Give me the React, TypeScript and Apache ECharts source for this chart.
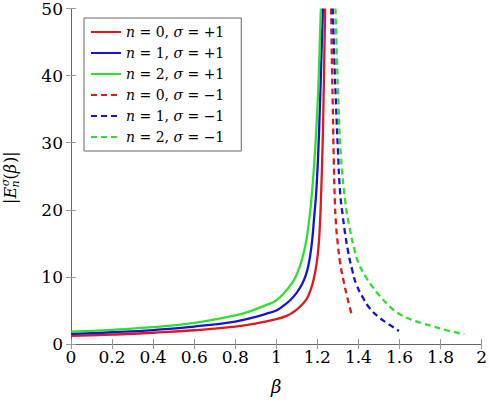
import React, { useEffect, useRef } from "react";
import * as echarts from "echarts";

const FONT = "DejaVu Serif";
const RED = "#e01818";
const BLUE = "#1414d2";
const GREEN = "#2ee02e";

// beta, |E|
const solidN0: number[][] = [
  [0, 1.2], [0.2, 1.4], [0.4, 1.68], [0.6, 2.05], [0.8, 2.6], [0.9, 3.05], [1.0, 3.7],
  [1.05, 4.2], [1.08, 4.7], [1.11, 5.4], [1.143, 6.5], [1.16, 7.5], [1.175, 8.8],
  [1.19, 10.8], [1.203, 13.6], [1.212, 17.5], [1.219, 23], [1.225, 29], [1.23, 36],
  [1.234, 43], [1.238, 50],
];
const solidN1: number[][] = [
  [0, 1.5], [0.2, 1.75], [0.4, 2.08], [0.6, 2.6], [0.8, 3.35], [0.9, 4.05], [0.95, 4.5],
  [1.0, 5.0], [1.03, 5.6], [1.07, 6.6], [1.103, 7.8], [1.125, 8.9], [1.143, 10.2],
  [1.157, 11.8], [1.167, 13.6], [1.176, 15.8], [1.183, 18.4], [1.19, 20.8], [1.196, 23.3],
  [1.205, 29], [1.212, 35], [1.22, 43], [1.227, 50],
];
const solidN2: number[][] = [
  [0, 1.85], [0.2, 2.12], [0.4, 2.5], [0.6, 3.15], [0.8, 4.25], [0.9, 5.2], [0.95, 5.8],
  [1.0, 6.5], [1.046, 7.9], [1.075, 9.0], [1.094, 10.0], [1.115, 11.6], [1.132, 13.4],
  [1.147, 15.6], [1.159, 18.2], [1.168, 20.6], [1.175, 23.0], [1.185, 27], [1.195, 32],
  [1.203, 37], [1.21, 43], [1.217, 50],
];
const dashedN0: number[][] = [
  [1.267, 50], [1.272, 40], [1.275, 35.6], [1.28, 27.5], [1.285, 21.5], [1.291, 17.8],
  [1.3, 14.8], [1.311, 12.1], [1.325, 9.8], [1.343, 7.3], [1.355, 5.8], [1.367, 4.4],
];
const dashedN1: number[][] = [
  [1.275, 50], [1.283, 42], [1.291, 35.6], [1.3, 29], [1.311, 22.5], [1.325, 18.8],
  [1.335, 16.5], [1.351, 13.6], [1.37, 11], [1.391, 8.8], [1.424, 6.8], [1.456, 5.3],
  [1.496, 4.1], [1.537, 3.15], [1.57, 2.5], [1.597, 1.94],
];
const dashedN2: number[][] = [
  [1.288, 50], [1.296, 42], [1.303, 35.6], [1.315, 28], [1.337, 21], [1.359, 17],
  [1.38, 14.2], [1.4, 12.1], [1.44, 9.8], [1.472, 8.4], [1.5, 7.3], [1.536, 6.1],
  [1.57, 5.1], [1.61, 4.3], [1.66, 3.6], [1.72, 3.0], [1.754, 2.7], [1.83, 2.05], [1.916, 1.45],
];

const seriesNames = ["n0p", "n1p", "n2p", "n0m", "n1m", "n2m"];
const legendLabels = [
  "{i|n} = 0, {i|σ} = +1",
  "{i|n} = 1, {i|σ} = +1",
  "{i|n} = 2, {i|σ} = +1",
  "{i|n} = 0, {i|σ} = −1",
  "{i|n} = 1, {i|σ} = −1",
  "{i|n} = 2, {i|σ} = −1",
];
const seriesData = [solidN0, solidN1, solidN2, dashedN0, dashedN1, dashedN2];
const seriesColors = [RED, BLUE, GREEN, RED, BLUE, GREEN];
const seriesDashed = [false, false, false, true, true, true];

const xMin = 0, xMax = 2, xStep = 0.2;
const yMin = 0, yMax = 50, yStep = 10;

export default function App() {
  const ref = useRef<HTMLDivElement>(null);
  useEffect(() => {
    if (!ref.current) return;
    const chart = echarts.init(ref.current, null, { renderer: "svg" });
    const tickStyle = { show: true, inside: true, length: 5, lineStyle: { color: "#999", width: 1 } };
    const lineAxis = { show: true, lineStyle: { color: "#666", width: 1 } };
    const labelStyle = { fontFamily: FONT, fontSize: 17, color: "#000" };
    const t = (text: string, x: number, y: number, size: number, italic = false) => ({
      type: "text",
      x,
      y,
      style: {
        text,
        fontFamily: FONT,
        fontSize: size,
        fontStyle: italic ? "italic" : "normal",
        fill: "#000",
        align: "left",
        verticalAlign: "middle",
      },
    });
    chart.setOption({
      animation: false,
      grid: { left: 71, right: 7, top: 7, bottom: 50, containLabel: false },
      legend: {
        orient: "vertical",
        left: 84,
        top: 18,
        padding: [6, 17, 6, 6],
        itemWidth: 30,
        itemHeight: 16,
        itemGap: 5,
        selectedMode: false,
        borderColor: "#666",
        borderWidth: 1,
        backgroundColor: "#fff",
        itemStyle: { opacity: 0, borderWidth: 0 },
        data: seriesNames,
        formatter: (name: string) => legendLabels[seriesNames.indexOf(name)],
        textStyle: {
          fontFamily: FONT,
          fontSize: 14,
          color: "#000",
          lineHeight: 16,
          rich: { i: { fontFamily: FONT, fontSize: 14, fontStyle: "italic", color: "#000", lineHeight: 16 } },
        },
      },
      xAxis: [
        {
          type: "value", min: xMin, max: xMax, interval: xStep, position: "bottom",
          axisLine: lineAxis, axisTick: tickStyle, splitLine: { show: false },
          axisLabel: { ...labelStyle, margin: 4 },
          name: "β", nameLocation: "middle", nameGap: 33,
          nameTextStyle: { fontFamily: FONT, fontSize: 18, fontStyle: "italic", color: "#000" },
        },
        {
          type: "value", min: xMin, max: xMax, interval: xStep, position: "top",
          axisLine: lineAxis, axisTick: tickStyle, splitLine: { show: false },
          axisLabel: { show: false },
        },
      ],
      yAxis: [
        {
          type: "value", min: yMin, max: yMax, interval: yStep, position: "left",
          axisLine: lineAxis, axisTick: tickStyle, splitLine: { show: false },
          axisLabel: { ...labelStyle, margin: 8 },
        },
        {
          type: "value", min: yMin, max: yMax, interval: yStep, position: "right",
          axisLine: lineAxis, axisTick: tickStyle, splitLine: { show: false },
          axisLabel: { show: false },
        },
      ],
      graphic: [
        {
          type: "group",
          x: 10.5,
          y: 204,
          rotation: Math.PI / 2,
          children: [
            t("|", 0, 0, 16),
            t("E", 5.6, 0, 16, true),
            t("σ", 17.8, -5.5, 11, true),
            t("n", 16.4, 4.5, 11, true),
            t("(", 24.5, 0, 16),
            t("β", 30.8, 0, 16, true),
            t(")", 41, 0, 16),
            t("|", 47.3, 0, 16),
          ],
        },
      ],
      series: seriesNames.map((name, i) => ({
        name,
        type: "line",
        data: seriesData[i],
        showSymbol: false,
        symbol: "none",
        smooth: 0.5,
        clip: true,
        emphasis: { disabled: true },
        itemStyle: { color: seriesColors[i] },
        lineStyle: {
          color: seriesColors[i],
          width: 2.3,
          type: seriesDashed[i] ? [6, 4] : "solid",
        },
      })),
    });
    return () => chart.dispose();
  }, []);
  return (
    <div
      ref={ref}
      style={{ position: "fixed", left: 0, top: 0, width: 490, height: 400, background: "#fff" }}
    />
  );
}
